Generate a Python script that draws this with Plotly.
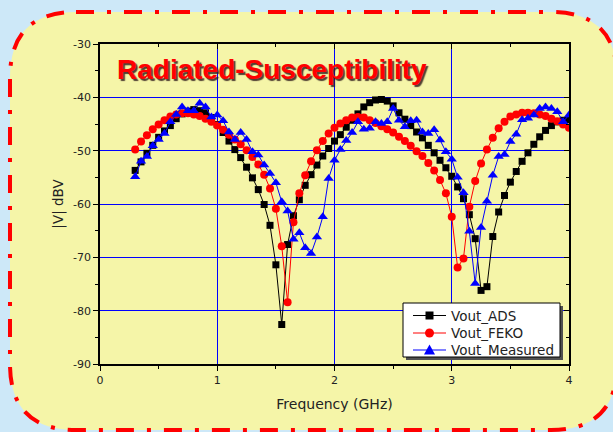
import plotly.graph_objects as go

freq = [0.3, 0.35, 0.4, 0.45, 0.5, 0.55, 0.6, 0.65, 0.7, 0.75, 0.8, 0.85, 0.9, 0.95,
        1.0, 1.05, 1.1, 1.15, 1.2, 1.25, 1.3, 1.35, 1.4, 1.45, 1.5, 1.55, 1.6, 1.65,
        1.7, 1.75, 1.8, 1.85, 1.9, 1.95, 2.0, 2.05, 2.1, 2.15, 2.2, 2.25, 2.3, 2.35,
        2.4, 2.45, 2.5, 2.55, 2.6, 2.65, 2.7, 2.75, 2.8, 2.85, 2.9, 2.95, 3.0, 3.05,
        3.1, 3.15, 3.2, 3.25, 3.3, 3.35, 3.4, 3.45, 3.5, 3.55, 3.6, 3.65, 3.7, 3.75,
        3.8, 3.85, 3.9, 3.95, 4.0]

vout_ads = [-53.7, -52.1, -50.5, -49.0, -47.5, -46.3, -45.3, -44.0, -43.1, -42.6, -42.3, -42.5, -42.9, -43.8,
            -45.1, -46.6, -48.2, -49.8, -51.3, -53.1, -55.1, -57.3, -60.1, -64.0, -71.4, -82.6, -67.6, -62.2,
            -59.2, -56.5, -54.5, -52.7, -51.0, -49.6, -48.2, -47.0, -45.6, -44.3, -43.1, -41.8, -41.0, -40.5,
            -40.4, -40.7, -41.6, -42.9, -44.1, -45.3, -46.5, -47.6, -49.0, -50.4, -51.8, -53.2, -54.8, -56.8,
            -59.0, -62.0, -66.5, -76.2, -75.5, -66.1, -61.5, -58.4, -55.9, -53.9, -52.0, -50.4, -48.8, -47.4,
            -46.2, -45.3, -44.6, -44.3, -44.2]

vout_feko = [-49.8, -48.3, -47.1, -46.0, -45.1, -44.3, -43.6, -43.2, -43.0, -43.0, -43.2, -43.5, -44.0, -44.6,
             -45.3, -46.1, -47.0, -47.9, -48.8, -49.9, -51.2, -52.6, -54.5, -57.1, -60.9, -67.9, -78.4, -63.4,
             -58.0, -54.6, -52.0, -49.9, -48.2, -46.8, -45.7, -44.9, -44.3, -43.8, -43.7, -43.8, -44.3, -44.8,
             -45.4, -46.0, -46.6, -47.4, -48.2, -49.1, -50.1, -51.0, -52.3, -53.7, -55.5, -58.0, -62.4, -71.9,
             -70.2, -60.5, -55.7, -52.4, -49.8, -47.6, -45.8, -44.6, -43.6, -43.2, -42.9, -42.9, -43.0, -43.2,
             -43.5, -44.0, -44.5, -45.1, -45.7]

vout_measured = [-54.9, -52.0, -51.1, -49.1, -47.9, -46.8, -44.6, -43.2, -41.8, -42.5, -42.5, -41.1, -41.8, -43.7,
                 -43.3, -44.4, -46.5, -47.9, -46.6, -47.9, -50.2, -50.8, -52.7, -54.3, -56.0, -59.6, -61.3, -66.6,
                 -65.4, -68.2, -69.3, -66.2, -62.4, -55.2, -51.8, -49.8, -48.1, -46.6, -44.6, -46.0, -45.8, -44.6,
                 -44.9, -44.6, -42.1, -44.3, -45.5, -44.4, -44.3, -46.5, -46.8, -46.1, -48.0, -50.2, -51.6, -55.0,
                 -57.9, -65.1, -74.9, -64.4, -59.5, -54.6, -51.1, -50.7, -48.3, -46.9, -44.2, -43.9, -43.3, -42.1,
                 -41.8, -42.1, -42.7, -44.6, -43.3]

series_names = ["Vout_ADS", "Vout_FEKO", "Vout_Measured"]
series_colors = ["#000000", "#ff0000", "#0000ff"]
series_symbols = ["square", "circle", "triangle-up"]
x_ticks = [0, 1, 2, 3, 4]
x_ticktext = ["0", "1", "2", "3", "4"]
y_ticks = [-90, -80, -70, -60, -50, -40, -30]
y_ticktext = ["-90", "-80", "-70", "-60", "-50", "-40", "-30"]
title_text = "Radiated-Susceptibility"

W, H = 613, 432
ML, MR, MT, MB = 100, 44, 44, 68
PW, PH = W - ML - MR, H - MT - MB


def px(xp):
    return (xp - ML) / PW


def py(yp):
    return (H - MB - yp) / PH


def ppath(cmds):
    s = ""
    for cmd, ps in cmds:
        s += cmd + " " + " ".join(f"{px(a):.5f},{py(b):.5f}" for a, b in ps) + " "
    return s + "Z"


# rounded frame in pixel space -> paper coordinates
L, T, R, B, r = 10, 12, 617, 430, 66
frame_path = ppath([
    ("M", [(L + r, T)]),
    ("L", [(R - r, T)]),
    ("Q", [(R, T), (R, T + r)]),
    ("L", [(R, B - r)]),
    ("Q", [(R, B), (R - r, B)]),
    ("L", [(L + r, B)]),
    ("Q", [(L, B), (L, B - r)]),
    ("L", [(L, T + r)]),
    ("Q", [(L, T), (L + r, T)]),
])

fig = go.Figure()

sizes = [7, 8, 9]
for yv, nm, col, sym, sz in zip([vout_ads, vout_feko, vout_measured], series_names,
                                series_colors, series_symbols, sizes):
    fig.add_trace(go.Scatter(
        x=freq, y=yv, name=nm, mode="lines+markers", showlegend=False,
        line=dict(color=col, width=1),
        marker=dict(symbol=sym, size=sz, color=col),
    ))

# helper trace for mirrored inside ticks
fig.add_trace(go.Scatter(x=[None], y=[None], xaxis="x2", yaxis="y2",
                         showlegend=False, hoverinfo="skip"))

fig.add_shape(type="path", path=frame_path, xref="paper", yref="paper", layer="below",
              fillcolor="#f5f5a8", line=dict(color="#ff0000", width=4, dash="18px,13px,4px,13px"))

font = dict(family="DejaVu Sans, Verdana, sans-serif", color="#222222")

# ---- legend (box with drop shadow) ----
LX0, LY0, LX1, LY1 = 403, 303, 560, 357
fig.add_shape(type="rect", xref="paper", yref="paper", layer="above",
              x0=px(LX0 + 3), x1=px(LX1 + 3), y0=py(LY1 + 3), y1=py(LY0 + 3),
              fillcolor="#505050", line=dict(width=0))
fig.add_shape(type="rect", xref="paper", yref="paper", layer="above",
              x0=px(LX0), x1=px(LX1), y0=py(LY1), y1=py(LY0),
              fillcolor="white", line=dict(color="black", width=1))
row_y = [315.5, 333, 350]
for yy, nm, col, sym in zip(row_y, series_names, series_colors, series_symbols):
    fig.add_shape(type="line", xref="paper", yref="paper", layer="above",
                  x0=px(413), x1=px(446), y0=py(yy), y1=py(yy), line=dict(color=col, width=1))
    cx = 429.5
    if sym == "square":
        fig.add_shape(type="rect", xref="paper", yref="paper", layer="above",
                      x0=px(cx - 4), x1=px(cx + 4), y0=py(yy + 4), y1=py(yy - 4),
                      fillcolor=col, line=dict(width=0))
    elif sym == "circle":
        fig.add_shape(type="circle", xref="paper", yref="paper", layer="above",
                      x0=px(cx - 4.5), x1=px(cx + 4.5), y0=py(yy + 4.5), y1=py(yy - 4.5),
                      fillcolor=col, line=dict(width=0))
    else:
        fig.add_shape(type="path", xref="paper", yref="paper", layer="above",
                      path=ppath([("M", [(cx - 5.5, yy + 4.5)]), ("L", [(cx + 5.5, yy + 4.5)]),
                                  ("L", [(cx, yy - 5.5)])]),
                      fillcolor=col, line=dict(width=0))
    fig.add_annotation(x=px(449), y=py(yy), xref="paper", yref="paper", text=nm,
                       showarrow=False, xanchor="left", yanchor="middle",
                       font=dict(**font, size=13.5))

fig.add_annotation(x=px(115), y=py(69), xref="paper", yref="paper", text=title_text,
                   showarrow=False, xanchor="left", yanchor="middle",
                   font=dict(family="Liberation Sans, Arial, sans-serif", size=28, color="#ff0000",
                             weight="bold", shadow="2px 2px 1px rgba(50,30,30,0.85)"))

fig.update_layout(
    width=W, height=H, autosize=False,
    margin=dict(l=ML, r=MR, t=MT, b=MB, pad=0),
    paper_bgcolor="#cde8f8",
    plot_bgcolor="rgba(0,0,0,0)",
    font=dict(**font, size=11),
    showlegend=False,
    xaxis=dict(range=[0, 4], tickvals=x_ticks, ticktext=x_ticktext, ticks="outside", ticklen=5,
               tickwidth=1, tickcolor="black", showline=True, linecolor="black", linewidth=1.5,
               mirror=True, showgrid=True, gridcolor="#0000ff", gridwidth=1, zeroline=False,
               minor=dict(dtick=0.5, ticks="outside", ticklen=3, tickcolor="black", showgrid=False),
               title=dict(text="Frequency (GHz)", font=dict(**font, size=14), standoff=13)),
    yaxis=dict(range=[-90, -30], tickvals=y_ticks, ticktext=y_ticktext, ticks="outside", ticklen=5,
               tickwidth=1, tickcolor="black", showline=True, linecolor="black", linewidth=1.5,
               mirror=True, showgrid=True, gridcolor="#0000ff", gridwidth=1, zeroline=False,
               minor=dict(dtick=5, ticks="outside", ticklen=3, tickcolor="black", showgrid=False),
               title=dict(text="|V| dBV", font=dict(**font, size=13.5), standoff=6)),
    xaxis2=dict(range=[0, 4], overlaying="x", side="top", tickvals=x_ticks, ticks="inside",
                ticklen=5, tickcolor="black", showticklabels=False, showgrid=False, zeroline=False,
                showline=False,
                minor=dict(dtick=0.5, ticks="inside", ticklen=3, tickcolor="black", showgrid=False)),
    yaxis2=dict(range=[-90, -30], overlaying="y", side="right", tickvals=y_ticks, ticks="inside",
                ticklen=5, tickcolor="black", showticklabels=False, showgrid=False, zeroline=False,
                showline=False,
                minor=dict(dtick=5, ticks="inside", ticklen=3, tickcolor="black", showgrid=False)),
)

fig.write_html("out.html", config={"displayModeBar": False},
               post_script="document.body.style.margin='0px';")
